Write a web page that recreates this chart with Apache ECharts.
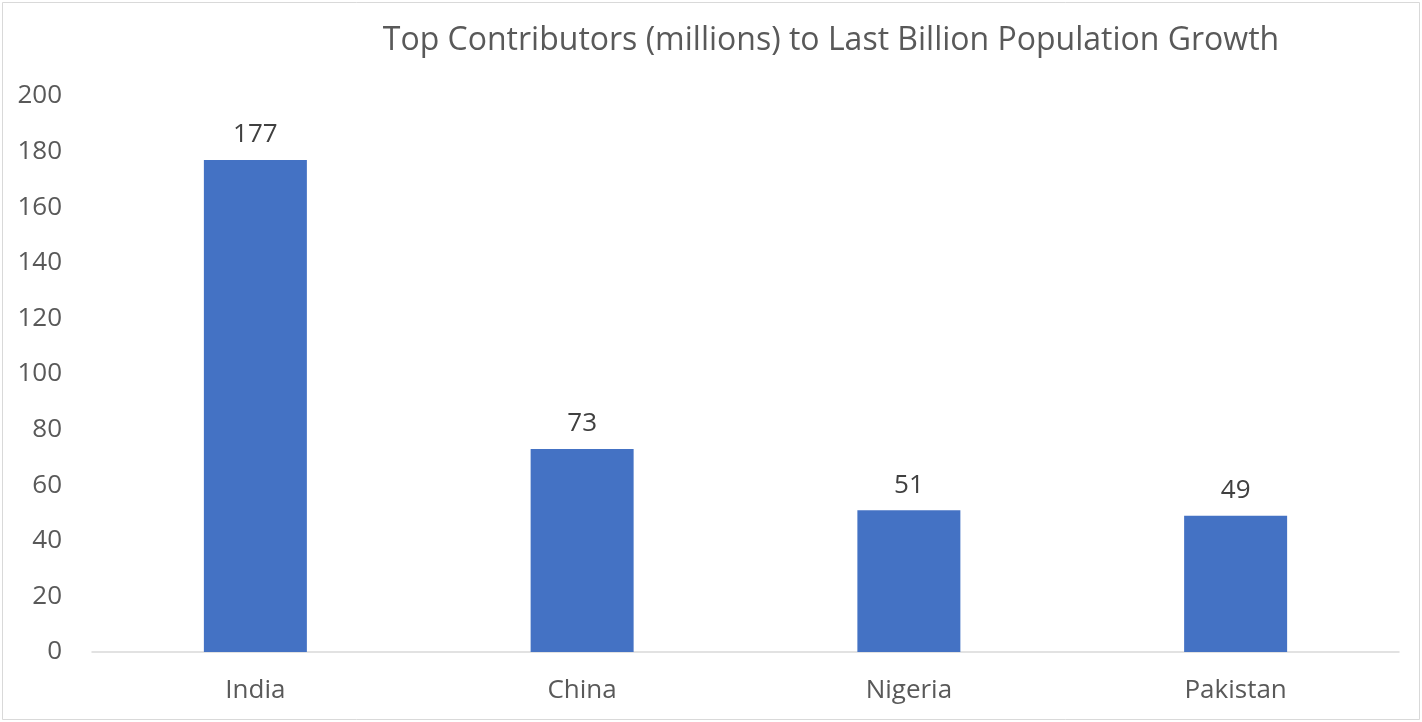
<!DOCTYPE html>
<html>
<head>
<meta charset="utf-8">
<script src="https://cdn.jsdelivr.net/npm/echarts@6/dist/echarts.min.js"></script>
<style>
  html, body { margin: 0; padding: 0; background: #fff; }
  #chart { width: 1422px; height: 722px; }
</style>
</head>
<body>
<div id="chart"></div>
<script>
  // chart data
  var categories = ['India', 'China', 'Nigeria', 'Pakistan'];
  var values = [177, 73, 51, 49];
  var titleText = 'Top Contributors (millions) to Last Billion Population Growth';

  var myChart = echarts.init(document.getElementById('chart'));

  var option = {
    backgroundColor: '#fff',
    animation: false,
    title: {
      text: titleText,
      left: 826,
      top: 20,
      textAlign: 'center',
      textStyle: {
        fontFamily: 'Open Sans',
        fontSize: 32,
        fontWeight: 'normal',
        color: '#595959'
      }
    },
    graphic: [{
      type: 'rect',
      shape: { x: 2.5, y: 2.5, width: 1417, height: 717 },
      style: { fill: 'none', stroke: '#d9d9d9', lineWidth: 1 },
      silent: true
    }],
    grid: {
      left: 92,
      right: 23,
      top: 96,
      bottom: 70
    },
    xAxis: {
      type: 'category',
      data: categories,
      axisLine: { lineStyle: { color: '#d9d9d9', width: 1.5 } },
      axisTick: { show: false },
      axisLabel: {
        margin: 26,
        fontFamily: 'Open Sans',
        fontSize: 26,
        color: '#595959'
      }
    },
    yAxis: {
      type: 'value',
      min: 0,
      max: 200,
      interval: 20,
      axisLine: { show: false },
      axisTick: { show: false },
      splitLine: { show: false },
      axisLabel: {
        margin: 30,
        fontFamily: 'Open Sans',
        fontSize: 26,
        color: '#595959'
      }
    },
    series: [{
      type: 'bar',
      data: values,
      barWidth: 103,
      itemStyle: { color: '#4472C4' },
      label: {
        show: true,
        position: 'top',
        distance: 12,
        fontFamily: 'Open Sans',
        fontSize: 26,
        color: '#404040'
      }
    }]
  };

  myChart.setOption(option);

  window.onresize = function() {
    myChart.resize();
  };
</script>
</body>
</html>
